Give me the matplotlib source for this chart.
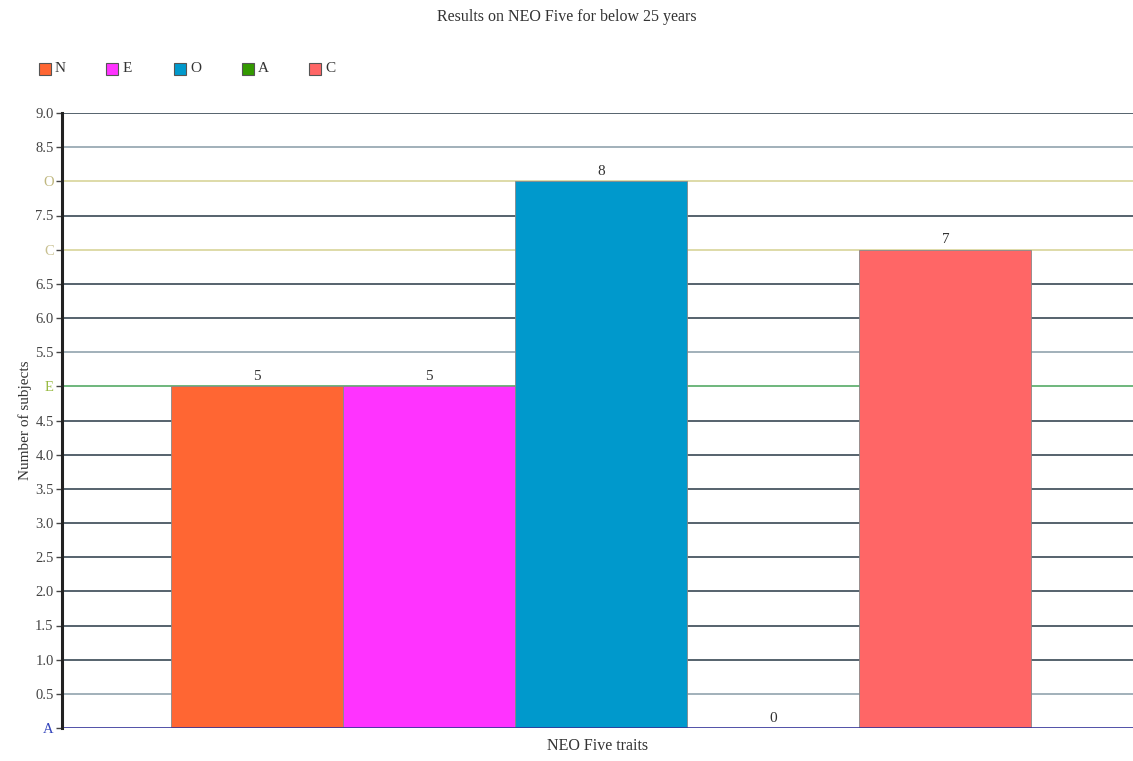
import matplotlib
matplotlib.use("Agg")
import matplotlib.pyplot as plt
from matplotlib.patches import Rectangle

plt.rcParams["font.family"] = ["Liberation Serif", "DejaVu Serif"]

# ----------------------------------------------------------------
# Data
# ----------------------------------------------------------------
traits = ["N", "E", "O", "A", "C"]
counts = [5, 5, 8, 0, 7]
colors = ["#ff6633", "#ff33ff", "#0099cc", "#339900", "#ff6666"]

y_ticks = [0, 0.5, 1.0, 1.5, 2.0, 2.5, 3.0, 3.5, 4.0, 4.5, 5.0, 5.5,
           6.0, 6.5, 7.0, 7.5, 8.0, 8.5, 9.0]
# trait letters shown in place of some tick values
tick_marks = {0: ("A", "#3344bb", "#333399"),
              5.0: ("E", "#99bb44", "#55aa66"),
              7.0: ("C", "#c8c090", "#d8d49a"),
              8.0: ("O", "#c0b880", "#d8d49a")}
light_ticks = [0.5, 5.5, 8.5]

fig = plt.figure(figsize=(11.33, 7.61), dpi=100)
ax = fig.add_axes([62 / 1133, 1 - 728 / 761, 1 - 62 / 1133, (728 - 113) / 761])

x = list(range(len(traits)))
bars = ax.bar(x, counts, width=1.0, color=colors, edgecolor="#888888",
              linewidth=0.6, zorder=3)
for xi, v in zip(x, counts):
    ax.text(xi, v + 0.05, str(v), ha="center", va="bottom", fontsize=11,
            color="#333333", zorder=4)

# horizontal grid lines
for t in y_ticks:
    if t in tick_marks:
        lc = tick_marks[t][2]
        lw = 1.2
    elif t in light_ticks:
        lc = "#9aaab4"
        lw = 1.3
    else:
        lc = "#55626c"
        lw = 1.4
    ax.axhline(t, color=lc, linewidth=lw, zorder=1 if t > 0 else 5)

ax.set_xlim(-1.134, 5.09)
ax.set_ylim(0, 9.0)
ax.set_yticks(y_ticks)
labels = []
for t in y_ticks:
    labels.append(tick_marks[t][0] if t in tick_marks else f"{t:.1f}")
ax.set_yticklabels(labels, fontsize=10.5)
for lab, t in zip(ax.get_yticklabels(), y_ticks):
    lab.set_color(tick_marks[t][1] if t in tick_marks else "#444444")
ax.tick_params(axis="y", length=4, width=1, color="#444444", pad=2)
ax.tick_params(axis="x", length=0, labelbottom=False)

for side in ["top", "right", "bottom"]:
    ax.spines[side].set_visible(False)
ax.spines["left"].set_linewidth(2.2)
ax.spines["left"].set_color("#222222")
ax.spines["left"].set_zorder(6)

ax.set_ylabel("Number of subjects", fontsize=11, labelpad=2, color="#333333")
ax.set_xlabel("NEO Five traits", fontsize=11.5, labelpad=7, color="#333333")

fig.text(0.5, 1 - 17 / 761, "Results on NEO Five for below 25 years",
         ha="center", va="center", fontsize=11.5, color="#333333")

# legend row of coloured squares
for i, (name, c) in enumerate(zip(traits, colors)):
    px = 39 + i * 67.5
    fig.patches.append(Rectangle((px / 1133, 1 - 75 / 761), 12 / 1133, 12 / 761,
                                 transform=fig.transFigure, facecolor=c,
                                 edgecolor="#555555", linewidth=0.8))
    fig.text((px + 16) / 1133, 1 - 68 / 761, name, ha="left", va="center",
             fontsize=11, color="#333333")

plt.savefig("out.png", dpi=100)
plt.close()
